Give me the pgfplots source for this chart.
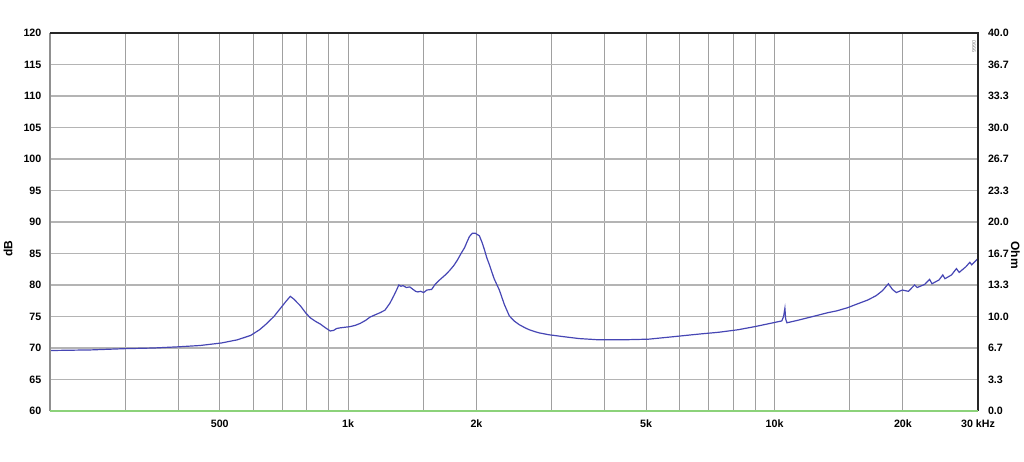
\documentclass[border=0pt]{standalone}
\usepackage{pgfplots}
\pgfplotsset{compat=1.18}
\usepackage{fontspec}
\setmainfont{Liberation Sans}
\definecolor{curve}{HTML}{4646B4}
\definecolor{gridc}{HTML}{A0A0A0}
\definecolor{hgridc}{HTML}{B4B4B4}
\definecolor{grn}{HTML}{8CD27A}
\pgfplotstableread{
f dB
200 69.6
250 69.7
300 69.9
350 70.0
403 70.2
450 70.4
505 70.8
550 71.3
591 72.0
620 72.9
640 73.7
670 75.0
694 76.3
715 77.4
732 78.2
745 77.8
773 76.7
795 75.6
815 74.8
840 74.2
861 73.8
885 73.2
908 72.7
925 72.8
940 73.1
958 73.2
985 73.3
1011 73.4
1040 73.6
1067 73.9
1100 74.4
1125 74.9
1160 75.3
1188 75.6
1220 76.0
1253 77.1
1280 78.3
1301 79.3
1315 80.0
1330 79.8
1345 79.9
1370 79.6
1395 79.7
1420 79.3
1440 79.0
1457 78.9
1480 79.0
1504 78.8
1530 79.2
1570 79.3
1600 80.1
1639 80.8
1690 81.6
1730 82.3
1770 83.1
1806 84.0
1840 85.0
1875 85.9
1905 87.0
1926 87.7
1955 88.2
1990 88.2
2032 87.8
2060 86.8
2088 85.6
2115 84.3
2145 83.2
2200 81.0
2263 79.2
2325 76.9
2388 75.1
2450 74.3
2520 73.7
2600 73.2
2659 72.9
2740 72.6
2806 72.4
2960 72.1
3200 71.8
3478 71.5
3873 71.3
4400 71.3
5064 71.4
5800 71.8
6626 72.2
7400 72.5
8214 72.9
9000 73.4
9915 74.0
10400 74.3
10500 75.0
10575 76.3
10620 74.6
10690 74.0
11340 74.4
12300 75.0
13320 75.6
14000 75.9
14840 76.4
15500 76.9
16520 77.6
17300 78.3
17910 79.1
18490 80.2
18900 79.3
19300 78.8
19940 79.2
20600 79.0
21300 80.0
21600 79.6
22500 80.1
23100 80.9
23400 80.2
24300 80.8
24800 81.6
25100 81.0
26000 81.6
26700 82.6
27100 82.0
28100 82.9
28700 83.6
29000 83.2
30000 84.2
}\dBdata
\begin{document}
\begin{tikzpicture}[font=\fontsize{8}{9.6}\selectfont\bfseries]
\path[use as bounding box] (-37.5pt,-37.5pt) rectangle (730.5pt,308.25pt);
\begin{axis}[
  scale only axis, width=696pt, height=283.5pt,
  anchor=south west, at={(0,0)},
  xmode=log, xmin=200, xmax=30000,
  ymin=60, ymax=120,
  xtick={500,1000,2000,5000,10000,20000,30000},
  xticklabels={500,1k,2k,5k,10k,20k,30 kHz},
  minor xtick={300,400,600,700,800,900,1500,3000,4000,6000,7000,8000,9000,15000},
  ytick={60,65,...,120},
  xmajorgrids, xminorgrids, ymajorgrids,
  x grid style={gridc, line width=0.75pt},
  y grid style={hgridc, line width=1pt},
  major tick length=0pt, minor tick length=0pt,
  axis line style={draw=none},
  tick label style={font=\fontsize{8}{9.6}\selectfont\bfseries},
  /pgf/number format/assume math mode=true,
  xticklabel style={yshift=-3pt},
  yticklabel style={xshift=-3pt},
  clip=false,
]
\addplot[grn, line width=1.2pt] coordinates {(200,60) (30000,60)};
\addplot[curve, line width=0.9pt] table[x=f, y=dB] {\dBdata};
\draw[gridc!90!black, line width=1pt] (rel axis cs:0,0) -- (rel axis cs:0,1);
\draw[black!85, line width=1.5pt] (rel axis cs:0,1) -- (rel axis cs:1,1) -- (rel axis cs:1,0);
\draw[grn, line width=1.2pt] (rel axis cs:0,0) -- (rel axis cs:1,0);
\node[rotate=-90, gray, font=\fontsize{4}{4}\selectfont] at (rel axis cs:0.9955,0.965) {0666};
\end{axis}
\begin{axis}[
  scale only axis, width=696pt, height=283.5pt,
  anchor=south west, at={(0,0)},
  xmode=log, xmin=200, xmax=30000,
  ymin=0, ymax=40,
  axis y line*=right, hide x axis,
  axis line style={draw=none},
  ytick={0,3.3333,6.6667,10,13.3333,16.6667,20,23.3333,26.6667,30,33.3333,36.6667,40},
  yticklabels={0.0,3.3,6.7,10.0,13.3,16.7,20.0,23.3,26.7,30.0,33.3,36.7,40.0},
  major tick length=0pt,
  tick label style={font=\fontsize{8}{9.6}\selectfont\bfseries},
  /pgf/number format/assume math mode=true,
  yticklabel style={xshift=4pt, anchor=west},
]
\addplot[draw=none] coordinates {(200,0)};
\end{axis}
\node[rotate=90, font=\fontsize{9}{10}\selectfont\bfseries] at (-31.5pt,122pt) {dB};
\node[rotate=-90, font=\fontsize{9}{10}\selectfont\bfseries] at (724pt,117pt) {Ohm};
\end{tikzpicture}
\end{document}
